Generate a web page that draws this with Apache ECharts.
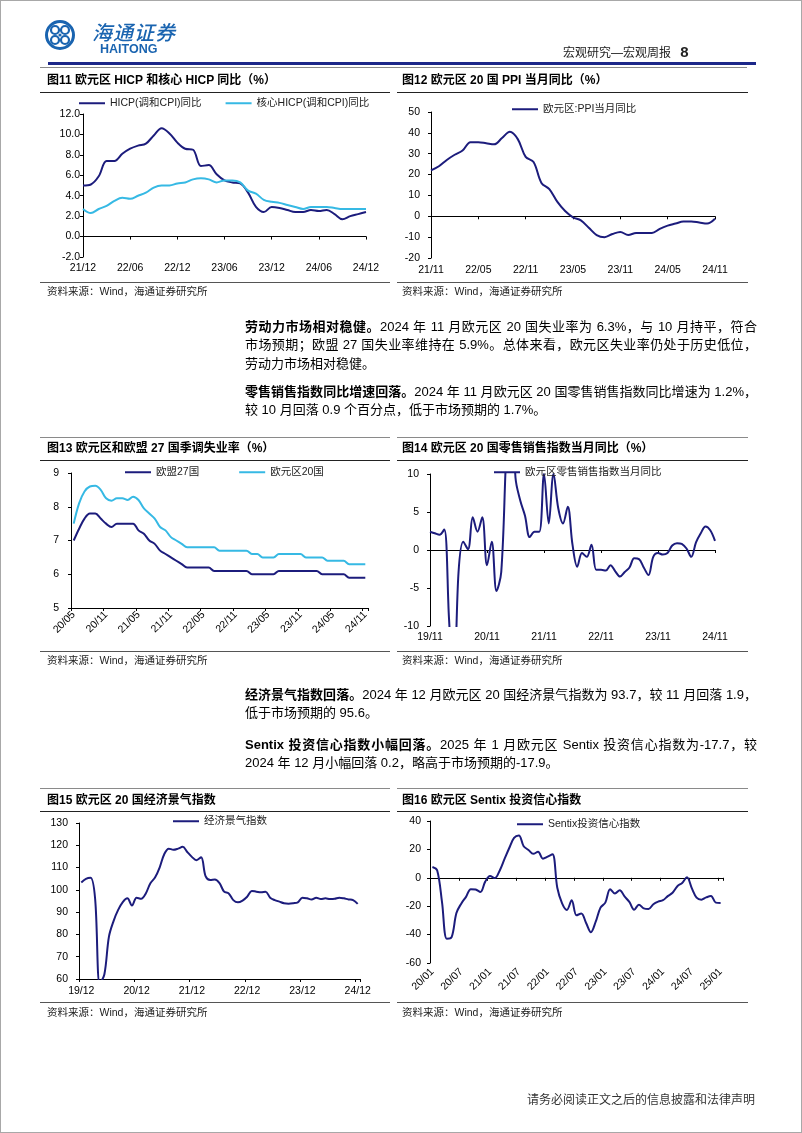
<!DOCTYPE html>
<html><head><meta charset="utf-8">
<script src="https://cdn.jsdelivr.net/npm/echarts@6/dist/echarts.min.js"></script>
<style>
html,body{margin:0;padding:0;background:#fff;overflow:hidden}
#page{position:relative;width:802px;height:1133px;background:#fff;overflow:hidden}
#chart{position:absolute;left:0;top:0;width:802px;height:1133px}
.frame{position:absolute;left:0;top:0;width:802px;height:1133px;box-sizing:border-box;border:1px solid #a8a8a8;pointer-events:none}
.tx{position:absolute;white-space:nowrap;font-family:"Liberation Sans","Noto Sans CJK SC",sans-serif;color:#000}
.ln{position:absolute}
.tt{font-size:12px;line-height:16px;font-weight:bold}
.src{font-size:10.5px;line-height:14px;color:#222}
.p{font-size:13px;line-height:18px;left:245px}
.j{width:512px;text-align:justify;text-align-last:justify}
b{font-weight:bold}
</style>
</head><body>
<div id="page">
<div id="chart"></div>

<!-- header -->
<div class="tx" style="left:92px;top:20px;font-size:20px;line-height:24px;color:#1a64b0;font-style:italic;font-family:'Noto Sans CJK SC',sans-serif;font-weight:500;letter-spacing:1px">海通证券</div>
<div class="tx" style="left:100px;top:42px;font-size:12.5px;line-height:14px;color:#1a64b0;font-weight:bold">HAITONG</div>
<div class="tx" style="left:563px;top:44px;font-size:12px;line-height:16px;color:#222">宏观研究—宏观周报 <span style="font-weight:bold;font-size:15px;margin-left:6px">8</span></div>
<div class="ln" style="left:48px;top:62px;width:708px;height:3px;background:#1c2789"></div>
<div class="ln" style="left:40px;top:67px;width:707px;height:1px;background:#8a8a8a"></div>

<!-- chart 11 / 12 frame -->
<div class="tx tt" style="left:47px;top:72px">图11 欧元区 HICP 和核心 HICP 同比（%）</div>
<div class="ln" style="left:40px;top:92px;width:350px;height:1px;background:#222"></div>
<div class="ln" style="left:40px;top:282px;width:350px;height:1px;background:#555"></div>
<div class="tx src" style="left:47px;top:284px">资料来源：Wind，海通证券研究所</div>

<div class="tx tt" style="left:402px;top:72px">图12 欧元区 20 国 PPI 当月同比（%）</div>
<div class="ln" style="left:397px;top:92px;width:351px;height:1px;background:#222"></div>
<div class="ln" style="left:397px;top:282px;width:351px;height:1px;background:#555"></div>
<div class="tx src" style="left:402px;top:284px">资料来源：Wind，海通证券研究所</div>

<!-- paragraphs 1,2 -->
<div class="tx p j" style="top:318px"><b>劳动力市场相对稳健。</b>2024 年 11 月欧元区 20 国失业率为 6.3%，与 10 月持平，符合</div>
<div class="tx p j" style="top:336px">市场预期；欧盟 27 国失业率维持在 5.9%。总体来看，欧元区失业率仍处于历史低位，</div>
<div class="tx p" style="top:355px">劳动力市场相对稳健。</div>
<div class="tx p j" style="top:383px"><b>零售销售指数同比增速回落。</b>2024 年 11 月欧元区 20 国零售销售指数同比增速为 1.2%，</div>
<div class="tx p" style="top:401px">较 10 月回落 0.9 个百分点，低于市场预期的 1.7%。</div>

<!-- chart 13 / 14 frame -->
<div class="ln" style="left:40px;top:437px;width:350px;height:1px;background:#8a8a8a"></div>
<div class="tx tt" style="left:47px;top:440px">图13 欧元区和欧盟 27 国季调失业率（%）</div>
<div class="ln" style="left:40px;top:460px;width:350px;height:1px;background:#222"></div>
<div class="ln" style="left:40px;top:651px;width:350px;height:1px;background:#555"></div>
<div class="tx src" style="left:47px;top:653px">资料来源：Wind，海通证券研究所</div>

<div class="ln" style="left:397px;top:437px;width:351px;height:1px;background:#8a8a8a"></div>
<div class="tx tt" style="left:402px;top:440px">图14 欧元区 20 国零售销售指数当月同比（%）</div>
<div class="ln" style="left:397px;top:460px;width:351px;height:1px;background:#222"></div>
<div class="ln" style="left:397px;top:651px;width:351px;height:1px;background:#555"></div>
<div class="tx src" style="left:402px;top:653px">资料来源：Wind，海通证券研究所</div>

<!-- paragraphs 3,4 -->
<div class="tx p j" style="top:686px"><b>经济景气指数回落。</b>2024 年 12 月欧元区 20 国经济景气指数为 93.7，较 11 月回落 1.9，</div>
<div class="tx p" style="top:704px">低于市场预期的 95.6。</div>
<div class="tx p j" style="top:736px"><b>Sentix 投资信心指数小幅回落。</b>2025 年 1 月欧元区 Sentix 投资信心指数为-17.7，较</div>
<div class="tx p" style="top:754px">2024 年 12 月小幅回落 0.2，略高于市场预期的-17.9。</div>

<!-- chart 15 / 16 frame -->
<div class="ln" style="left:40px;top:788px;width:350px;height:1px;background:#8a8a8a"></div>
<div class="tx tt" style="left:47px;top:792px">图15 欧元区 20 国经济景气指数</div>
<div class="ln" style="left:40px;top:811px;width:350px;height:1px;background:#222"></div>
<div class="ln" style="left:40px;top:1002px;width:350px;height:1px;background:#555"></div>
<div class="tx src" style="left:47px;top:1005px">资料来源：Wind，海通证券研究所</div>

<div class="ln" style="left:397px;top:788px;width:351px;height:1px;background:#8a8a8a"></div>
<div class="tx tt" style="left:402px;top:792px">图16 欧元区 Sentix 投资信心指数</div>
<div class="ln" style="left:397px;top:811px;width:351px;height:1px;background:#222"></div>
<div class="ln" style="left:397px;top:1002px;width:351px;height:1px;background:#555"></div>
<div class="tx src" style="left:402px;top:1005px">资料来源：Wind，海通证券研究所</div>

<div class="tx" style="left:527px;top:1092px;font-size:12px;line-height:16px;color:#333">请务必阅读正文之后的信息披露和法律声明</div>
<div class="frame"></div>
</div>

<script>
// ---------- data ----------
function months(y, m, n) {
  const out = [];
  for (let i = 0; i < n; i++) {
    const yy = y + Math.floor((m - 1 + i) / 12);
    const mm = ((m - 1 + i) % 12) + 1;
    out.push(String(yy % 100).padStart(2, '0') + '/' + String(mm).padStart(2, '0'));
  }
  return out;
}
const cat11 = months(2021, 12, 37);
const cat12 = months(2021, 11, 37);
const cat13 = months(2020, 5, 55);
const cat14 = months(2019, 11, 61);
const cat15 = months(2019, 12, 61);
const cat16 = months(2020, 1, 61);

const hicp = [5.0,5.1,5.9,7.4,7.4,8.1,8.6,8.9,9.1,9.9,10.6,10.1,9.2,8.6,8.5,6.9,7.0,6.1,5.5,5.3,5.2,4.3,2.9,2.4,2.9,2.8,2.6,2.4,2.4,2.6,2.5,2.6,2.2,1.7,2.0,2.2,2.4];
const coreHicp = [2.7,2.3,2.7,3.0,3.5,3.8,3.7,4.0,4.3,4.8,5.0,5.0,5.2,5.3,5.6,5.7,5.6,5.3,5.5,5.5,5.3,4.5,4.2,3.6,3.4,3.3,3.1,2.9,2.7,2.9,2.9,2.9,2.8,2.7,2.7,2.7,2.7];
const ppi = [22,24,27,29.5,31.5,35.5,35.5,35,34.5,37.5,40.5,37,28.5,26,16,13,7,2.5,-0.5,-2,-5.5,-9,-10,-8.5,-7.5,-9,-8,-8,-8,-6,-4.5,-3.5,-2.5,-2.5,-3,-3.5,-1.2];
const unempEU27 = [7.0,7.35,7.65,7.8,7.8,7.65,7.5,7.4,7.5,7.5,7.5,7.5,7.3,7.2,7.0,6.9,6.7,6.6,6.5,6.4,6.3,6.2,6.2,6.2,6.2,6.2,6.1,6.1,6.1,6.1,6.1,6.1,6.1,6.0,6.0,6.0,6.0,6.0,6.1,6.1,6.1,6.1,6.1,6.1,6.1,6.1,6.0,6.0,6.0,6.0,6.0,5.9,5.9,5.9,5.9];
const unempEA20 = [7.5,8.1,8.45,8.6,8.62,8.5,8.25,8.18,8.25,8.25,8.2,8.3,8.2,7.95,7.8,7.65,7.4,7.3,7.1,7.0,6.9,6.8,6.8,6.8,6.8,6.8,6.8,6.7,6.7,6.7,6.7,6.7,6.7,6.6,6.6,6.5,6.5,6.5,6.6,6.6,6.6,6.6,6.6,6.5,6.5,6.5,6.5,6.4,6.4,6.4,6.4,6.3,6.3,6.3,6.3];
const retail = [2.4,2.2,2.0,2.7,-9,-19,-3,1.1,0.1,4.3,2.4,4.3,-2.0,1.1,-5.4,-2.9,12,24,9.5,6.5,4.5,1.7,2.4,2.4,10.0,3.5,10.0,5.5,3.5,5.7,0.7,-2.2,-0.4,-0.9,0.7,-2.6,-2.6,-2.7,-2.0,-2.8,-3.5,-2.9,-2.3,-1.1,-1.2,-2.3,-3.3,-0.9,-0.4,-0.6,-0.4,0.6,0.9,0.8,0.2,-0.9,1.0,2.2,3.1,2.6,1.2];
const esi = [103.3,104.9,105.4,96,58,62,79,86,91,94.5,96.2,93,96.5,96,98.4,103,105.5,110,116,118.5,118,118.5,119.3,117,114.8,113.3,114.6,106,104.4,104.6,103,99.2,98.4,95.4,94.4,95.2,96.9,99.5,99.2,98.9,99.2,96.5,95.4,94.7,94.0,93.8,94.0,94.4,96.5,96.2,95.7,96.5,95.9,96.2,95.9,96.0,96.5,96.2,95.7,95.4,93.7];
const sentix = [7.6,5.2,-17.1,-42.9,-41.8,-24.8,-18.2,-13.4,-8.0,-8.3,-10.0,-2.7,1.3,-0.2,5.0,13.1,21.0,28.1,29.8,22.2,19.6,16.9,18.3,13.5,14.9,16.6,-7.0,-18.0,-22.6,-15.8,-26.4,-25.2,-31.8,-38.3,-30.9,-21.0,-17.5,-8.0,-11.1,-8.7,-13.1,-17.0,-22.5,-18.9,-21.5,-21.9,-18.6,-16.8,-15.8,-12.9,-10.5,-5.9,-3.6,0.3,-7.3,-13.9,-15.4,-13.8,-12.8,-17.5,-17.7];

const names = {
  hicp: 'HICP(调和CPI)同比', core: '核心HICP(调和CPI)同比', ppi: '欧元区:PPI当月同比',
  eu27: '欧盟27国', ea20: '欧元区20国', retail: '欧元区零售销售指数当月同比',
  esi: '经济景气指数', sentix: 'Sentix投资信心指数'
};

// ---------- styling ----------
const FONT = '"Liberation Sans", "Noto Sans CJK SC", sans-serif';
const NAVY = '#1c1c7c', CYAN = '#36b9e4', LOGO = '#1a64b0';
const LBL = { color: '#000', fontSize: 10.5, fontFamily: FONT };

function labelAxis(grid, cats, interval, margin, bg, rotate) {
  return { type: 'category', gridIndex: grid, data: cats, boundaryGap: bg, position: 'bottom',
    axisLine: { show: false, onZero: false }, axisTick: { show: false }, splitLine: { show: false },
    axisLabel: Object.assign({ interval: interval, margin: margin, rotate: rotate || 0, hideOverlap: false }, LBL) };
}
function zeroAxis(grid, cats, interval, bg) {
  return { type: 'category', gridIndex: grid, data: cats, boundaryGap: bg, position: 'bottom',
    axisLine: { show: true, onZero: true, lineStyle: { color: '#000', width: 1 } },
    axisTick: { show: true, interval: interval, length: 3, lineStyle: { color: '#000' } },
    axisLabel: { show: false }, splitLine: { show: false } };
}
function bottomAxis(grid, cats, interval, margin, bg, rotate) {
  return { type: 'category', gridIndex: grid, data: cats, boundaryGap: bg, position: 'bottom',
    axisLine: { show: true, onZero: false, lineStyle: { color: '#000', width: 1 } },
    axisTick: { show: true, interval: interval, length: 3, lineStyle: { color: '#000' } },
    splitLine: { show: false },
    axisLabel: Object.assign({ interval: interval, margin: margin, rotate: rotate || 0, hideOverlap: false }, LBL) };
}
function yAx(grid, min, max, interval, margin, fmt) {
  return { type: 'value', gridIndex: grid, min: min, max: max, interval: interval,
    axisLine: { show: true, lineStyle: { color: '#000', width: 1 } },
    axisTick: { show: true, length: 3, lineStyle: { color: '#000' } },
    splitLine: { show: false },
    axisLabel: Object.assign({ margin: margin, formatter: fmt }, LBL) };
}
function line(name, x, y, data, color) {
  return { name: name, type: 'line', xAxisIndex: x, yAxisIndex: y, data: data,
    symbol: 'none', showSymbol: false, smooth: 0.35, clip: true, color: color,
    lineStyle: { color: color, width: 2 }, itemStyle: { color: color }, z: 3 };
}
function legend(list, left, top, gap) {
  return { data: list, left: left, top: top, padding: 0, itemGap: gap, icon: 'rect',
    itemWidth: 26, itemHeight: 2, selectedMode: false,
    textStyle: { color: '#222', fontSize: 10.5, fontFamily: FONT } };
}

const option = {
  animation: false,
  textStyle: { fontFamily: FONT },
  grid: [
    { left: 83, top: 114, width: 283, height: 143 },
    { left: 431, top: 112, width: 284, height: 146 },
    { left: 71, top: 473, width: 297, height: 135 },
    { left: 430, top: 474, width: 285, height: 152 },
    { left: 79, top: 823, width: 281, height: 156 },
    { left: 430, top: 821, width: 293, height: 142 }
  ],
  xAxis: [
    labelAxis(0, cat11, 5, 6, false),
    zeroAxis(0, cat11, 5, false),
    labelAxis(1, cat12, 5, 7, false),
    zeroAxis(1, cat12, 5, false),
    bottomAxis(2, cat13, 5, 5, true, 45),
    labelAxis(3, cat14, 11, 6, false),
    zeroAxis(3, cat14, 11, false),
    bottomAxis(4, cat15, 11, 7, true),
    labelAxis(5, cat16, 5, 7, true, 45),
    zeroAxis(5, cat16, 5, true)
  ],
  yAxis: [
    yAx(0, -2, 12, 2, 3, function (v) { return v.toFixed(1); }),
    yAx(1, -20, 50, 10, 11),
    yAx(2, 5, 9, 1, 12),
    yAx(3, -10, 10, 5, 11),
    yAx(4, 60, 130, 10, 11),
    yAx(5, -60, 40, 20, 9)
  ],
  legend: [
    legend([names.hicp, names.core], 79, 98, 24),
    legend([names.ppi], 512, 104, 10),
    legend([names.eu27, names.ea20], 125, 467, 40),
    legend([names.retail], 494, 467, 10),
    legend([names.esi], 173, 816, 10),
    legend([names.sentix], 517, 819, 10)
  ],
  series: [
    line(names.hicp, 0, 0, hicp, NAVY),
    line(names.core, 0, 0, coreHicp, CYAN),
    line(names.ppi, 2, 1, ppi, NAVY),
    line(names.eu27, 4, 2, unempEU27, NAVY),
    line(names.ea20, 4, 2, unempEA20, CYAN),
    line(names.retail, 5, 3, retail, NAVY),
    line(names.esi, 7, 4, esi, NAVY),
    line(names.sentix, 8, 5, sentix, NAVY)
  ],
  graphic: [
    { type: 'circle', shape: { cx: 60, cy: 35, r: 13.5 }, style: { fill: 'none', stroke: LOGO, lineWidth: 3 } },
    { type: 'circle', shape: { cx: 55, cy: 30, r: 4 }, style: { fill: 'none', stroke: LOGO, lineWidth: 2.2 } },
    { type: 'circle', shape: { cx: 65, cy: 30, r: 4 }, style: { fill: 'none', stroke: LOGO, lineWidth: 2.2 } },
    { type: 'circle', shape: { cx: 55, cy: 40, r: 4 }, style: { fill: 'none', stroke: LOGO, lineWidth: 2.2 } },
    { type: 'circle', shape: { cx: 65, cy: 40, r: 4 }, style: { fill: 'none', stroke: LOGO, lineWidth: 2.2 } },
    { type: 'circle', shape: { cx: 60, cy: 35, r: 1.6 }, style: { fill: LOGO } }
  ]
};

const chart = echarts.init(document.getElementById('chart'), null, { renderer: 'canvas' });
chart.setOption(option);
</script>
</body></html>
